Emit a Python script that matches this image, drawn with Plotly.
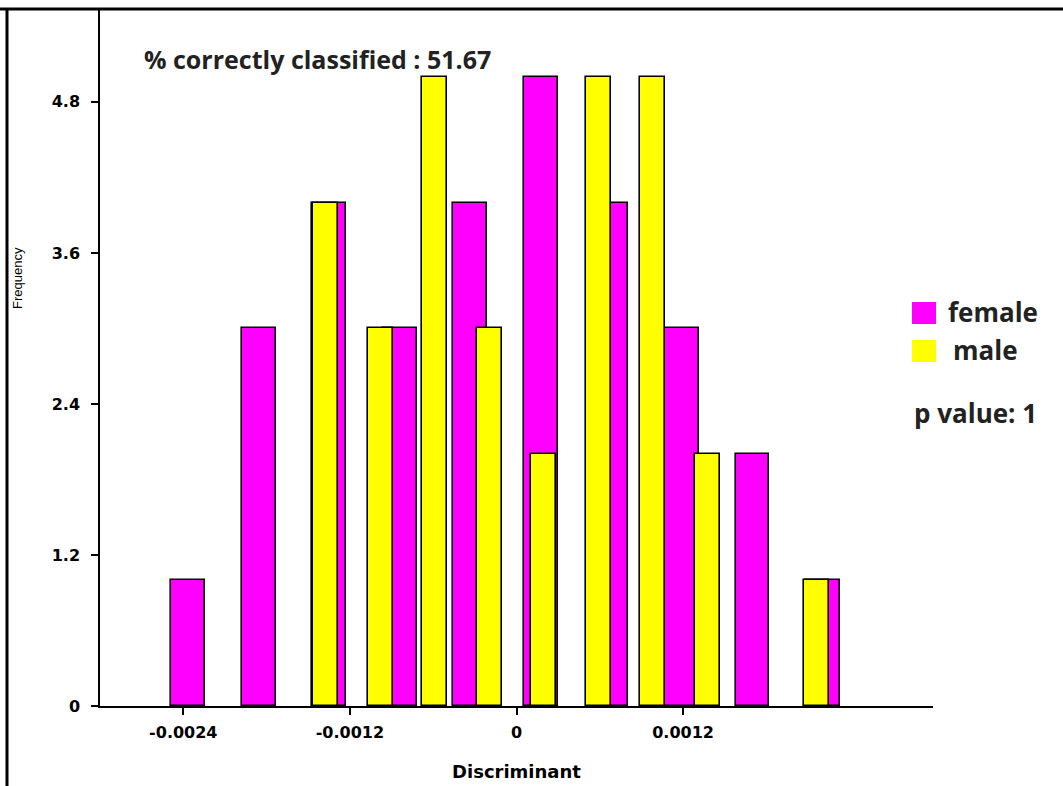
import plotly.graph_objects as go

# ---- data ----
female_x = [-0.002364, -0.001856, -0.001348, -0.000840, -0.000332,
            0.000176, 0.000684, 0.001192, 0.001700, 0.002208]
female_counts = [1, 3, 4, 3, 4, 5, 4, 3, 2, 1]

male_x = [-0.001376, -0.000983, -0.000590, -0.000197, 0.000196,
          0.000589, 0.000982, 0.001375, 0.002161]
male_counts = [4, 3, 5, 3, 2, 5, 5, 2, 1]

x_tickvals = [-0.0024, -0.0012, 0, 0.0012]
x_ticktext = ["-0.0024", "-0.0012", "0", "0.0012"]
y_tickvals = [0, 1.2, 2.4, 3.6, 4.8]
y_ticktext = ["0", "1.2", "2.4", "3.6", "4.8"]

series_names = ["female", "male"]
series_colors = ["#FF00FF", "#FFFF00"]
note_text = "% correctly classified : 51.67"
pvalue_text = "p value: 1"

W, H = 1063, 786
L, R, T, B = 100, 130, 10, 80
pw, ph = W - L - R, H - T - B


def px2paper_x(px):
    return (px - L) / pw


def px2paper_y(py):
    return (H - B - py) / ph


fig = go.Figure()
fig.add_trace(go.Bar(
    x=female_x, y=female_counts, width=0.000244, name=series_names[0],
    marker=dict(color=series_colors[0], line=dict(color="black", width=1.6)),
    showlegend=False,
))
fig.add_trace(go.Bar(
    x=male_x, y=male_counts, width=0.00018, name=series_names[1],
    marker=dict(color=series_colors[1], line=dict(color="black", width=1.6)),
    showlegend=False,
))

tickfont = dict(family="DejaVu Sans", size=16, color="black", weight="bold")
fig.update_layout(
    width=W, height=H,
    margin=dict(l=L, r=R, t=T, b=B, autoexpand=False),
    paper_bgcolor="white", plot_bgcolor="white",
    barmode="overlay", bargap=0,
    showlegend=False,
    xaxis=dict(
        range=[-0.003, 0.003], showgrid=False, zeroline=False,
        showline=True, linecolor="black", linewidth=1.5,
        ticks="outside", ticklen=7, tickwidth=1.5, tickcolor="black",
        tickvals=x_tickvals, ticktext=x_ticktext, tickfont=tickfont,
        ticklabelstandoff=4,
        title=dict(text="<b>Discriminant</b>", standoff=24,
                   font=dict(family="DejaVu Sans", size=18, color="black")),
    ),
    yaxis=dict(
        range=[0, 5.53], showgrid=False, zeroline=False,
        showline=True, linecolor="black", linewidth=1.5,
        ticks="outside", ticklen=7, tickwidth=1.5, tickcolor="black",
        tickvals=y_tickvals, ticktext=y_ticktext, tickfont=tickfont,
        ticklabelstandoff=8,
    ),
)

# y axis title placed where the reference shows it
fig.add_annotation(xref="paper", yref="paper", x=px2paper_x(17), y=px2paper_y(278),
                   xanchor="center", yanchor="middle", showarrow=False,
                   text="Frequency", textangle=-90,
                   font=dict(family="Liberation Sans", size=13, color="black"))

# outer frame (top and left edges of the reference picture)
fig.add_shape(type="line", xref="paper", yref="paper",
              x0=px2paper_x(0), x1=px2paper_x(W), y0=px2paper_y(9), y1=px2paper_y(9),
              line=dict(color="black", width=3))
fig.add_shape(type="line", xref="paper", yref="paper",
              x0=px2paper_x(7), x1=px2paper_x(7), y0=px2paper_y(9), y1=px2paper_y(H),
              line=dict(color="black", width=3))

# annotation
fig.add_annotation(xref="paper", yref="paper", x=px2paper_x(142), y=px2paper_y(59),
                   xanchor="left", yanchor="middle", showarrow=False,
                   text="<b>" + note_text + "</b>",
                   font=dict(family="Open Sans", size=25, color="#222"))

# legend drawn manually
leg_y = [313, 351]
leg_tx = [946, 951]
for name, col, yy, tx in zip(series_names, series_colors, leg_y, leg_tx):
    fig.add_shape(type="rect", xref="paper", yref="paper",
                  x0=px2paper_x(912), x1=px2paper_x(936),
                  y0=px2paper_y(yy - 11), y1=px2paper_y(yy + 11),
                  fillcolor=col, line=dict(width=0))
    fig.add_annotation(xref="paper", yref="paper", x=px2paper_x(tx), y=px2paper_y(yy - 1),
                       xanchor="left", yanchor="middle", showarrow=False,
                       text="<b>" + name + "</b>",
                       font=dict(family="Open Sans", size=26, color="#222"))
fig.add_annotation(xref="paper", yref="paper", x=px2paper_x(912), y=px2paper_y(413),
                   xanchor="left", yanchor="middle", showarrow=False,
                   text="<b>" + pvalue_text + "</b>",
                   font=dict(family="Open Sans", size=26, color="#222"))

fig.write_html("out.html", config={"displayModeBar": False},
               post_script="document.body.style.margin='0';")
